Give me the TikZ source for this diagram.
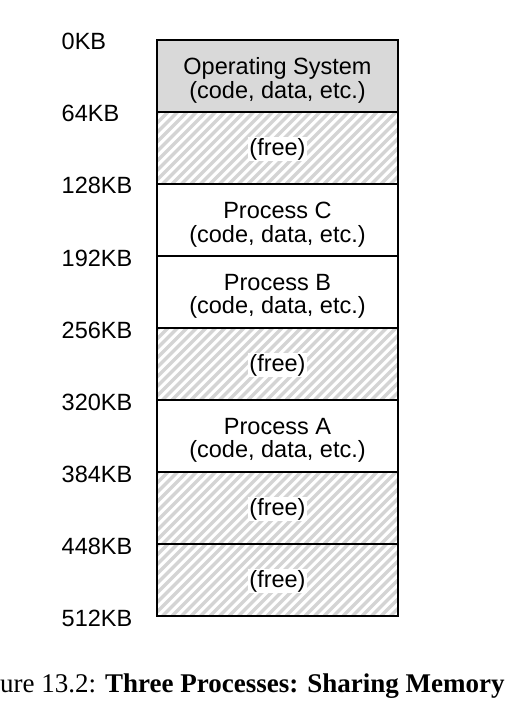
\documentclass[tikz,border=0pt]{standalone}
\usepackage{fontspec}
\setmainfont{Liberation Serif}
\newfontfamily\helv{Liberation Sans}
\usepackage{tikz}
\usetikzlibrary{positioning}
\definecolor{os-gray}{gray}{0.85}
\definecolor{hatch-gray}{gray}{0.83}
\tikzset{
    mem-seg/.style = {draw=black, line width=1.6pt, rectangle, minimum width=241pt, minimum height=72pt, inner sep=0pt, outer sep=0pt},
    os-seg/.style = {mem-seg, fill=os-gray, anchor=north west},
    proc-seg/.style = {mem-seg, fill=white},
    free-seg/.style = {mem-seg, fill=white, path picture={
        \foreach \s in {-80,-70.5,...,260}
            \draw[hatch-gray, line width=3.4pt] ([xshift=\s pt]path picture bounding box.south west) -- ++(80pt,80pt);
    }},
    seg-text/.style = {font=\helv\fontsize{23.5}{23.5}\selectfont, align=center, inner sep=0pt, yshift=-4.5pt},
    free-text/.style = {font=\helv\fontsize{23.5}{23.5}\selectfont, fill=white, inner sep=1pt, yshift=-1pt},
    addr-label/.style = {font=\helv\fontsize{23.5}{26}\selectfont, anchor=base west, inner sep=0pt},
    caption-text/.style = {font=\fontsize{27}{30}\selectfont, anchor=base west, inner sep=0pt},
}

\begin{document}
\begin{tikzpicture}[x=1pt,y=-1pt]
\useasboundingbox (0,0) rectangle (523,708);

% memory segments, top to bottom
\node[os-seg] (os) at (157,40) {};
\node[free-seg, below=0pt of os] (free1) {};
\node[proc-seg, below=0pt of free1] (procC) {};
\node[proc-seg, below=0pt of procC] (procB) {};
\node[free-seg, below=0pt of procB] (free2) {};
\node[proc-seg, below=0pt of free2] (procA) {};
\node[free-seg, below=0pt of procA] (free3) {};
\node[free-seg, below=0pt of free3] (free4) {};

% segment contents
\node[seg-text] at (os) {Operating System\\(code, data, etc.)};
\node[seg-text] at (procC) {Process C\\(code, data, etc.)};
\node[seg-text] at (procB) {Process B\\(code, data, etc.)};
\node[seg-text] at (procA) {Process A\\(code, data, etc.)};
\foreach \f in {free1,free2,free3,free4}
    \node[free-text] at (\f) {(free)};

% addresses
\foreach \k [count=\i from 0] in {0,64,...,512}
    \node[addr-label] (addr-\k) at (61.5,50+72*\i) {\k KB};

\node[caption-text] (cap) at (0,692) {ure 13.2: \textbf{Three Processes: Sharing Memory}};
\end{tikzpicture}
\end{document}
